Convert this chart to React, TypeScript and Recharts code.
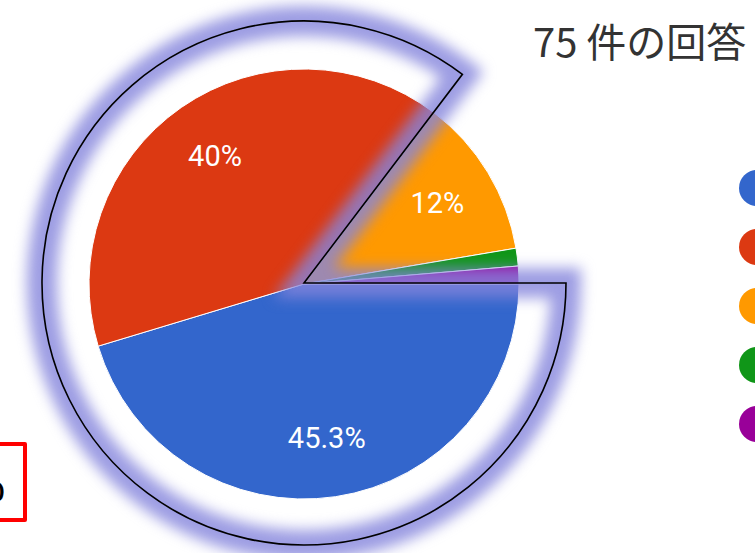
import { PieChart, Pie, Cell, Legend } from "recharts";

// 75 responses, Google Forms style pie
const categories = ["とてもそう思う", "そう思う", "どちらでもない", "そう思わない", "全くそう思わない"];
const counts = [34, 30, 9, 1, 1];
const colors = ["#3366cc", "#dc3912", "#ff9900", "#109618", "#990099"];
const title = "75 件の回答";
// slices circled by the hand-drawn annotation
const circled = [0, 1];

const data = categories.map((name, i) => ({ name, value: counts[i] }));
const total = counts.reduce((s, v) => s + v, 0);
const circledValue = circled.reduce((s, i) => s + counts[i], 0);
const outlineData = [
  { name: "circled", value: circledValue },
  { name: "rest", value: total - circledValue },
];

const RADIAN = Math.PI / 180;

const renderLabel = (props: any) => {
  const { cx, cy, midAngle, outerRadius, percent } = props;
  if (percent < 0.05) return null;
  const r = outerRadius * 0.725;
  const x = cx + r * Math.cos(-midAngle * RADIAN);
  const y = cy + r * Math.sin(-midAngle * RADIAN);
  return (
    <text x={x} y={y} fill="#fff" textAnchor="middle" dominantBaseline="central" fontSize={29} fontFamily="Roboto">
      {Math.round(percent * 1000) / 10 + "%"}
    </text>
  );
};

// legend labels sit past the right edge of the crop, only the dots show
const renderLegend = () => (
  <div>
    {categories.map((c, i) => (
      <div key={c} title={c} style={{ display: "flex", alignItems: "center", height: 59 }}>
        <span style={{ width: 36, height: 36, borderRadius: "50%", background: colors[i], flex: "none" }} />
      </div>
    ))}
  </div>
);

const App = () => {
  return (
    <div style={{ position: "absolute", left: 0, top: 0, width: 755, height: 553, overflow: "hidden", background: "#fff" }}>
      <style>{`.glow-ring path { filter: blur(7px); }`}</style>
      <PieChart width={755} height={553} margin={{ top: 0, right: 0, bottom: 0, left: 0 }}>
        <Pie
          data={data}
          dataKey="value"
          nameKey="name"
          cx={304}
          cy={284}
          outerRadius={215}
          startAngle={0}
          endAngle={-360}
          stroke="#fff"
          strokeWidth={1}
          label={renderLabel}
          labelLine={false}
          isAnimationActive={false}
        >
          {data.map((d, i) => (
            <Cell key={d.name} fill={colors[i]} />
          ))}
        </Pie>
        <Pie
          data={outlineData}
          dataKey="value"
          cx={304}
          cy={283}
          outerRadius={262}
          startAngle={0}
          endAngle={-360}
          className="glow-ring"
          legendType="none"
          isAnimationActive={false}
        >
          <Cell fill="none" stroke="#8585dc" strokeWidth={30} strokeOpacity={0.8} />
          <Cell fill="none" stroke="none" />
        </Pie>
        <Pie
          data={outlineData}
          dataKey="value"
          cx={304}
          cy={283}
          outerRadius={262}
          startAngle={0}
          endAngle={-360}
          legendType="none"
          isAnimationActive={false}
        >
          <Cell fill="none" stroke="#000" strokeWidth={1.6} />
          <Cell fill="none" stroke="none" />
        </Pie>
        <Legend
          layout="vertical"
          align="right"
          verticalAlign="top"
          content={renderLegend}
          wrapperStyle={{ left: 739, top: 158, width: 60 }}
        />
      </PieChart>
      <div
        style={{
          position: "absolute",
          left: 533,
          top: 20,
          fontSize: 40,
          lineHeight: 1,
          color: "#333",
          fontFamily: "Noto Sans CJK JP",
          whiteSpace: "nowrap",
        }}
      >
        {title}
      </div>
      <div
        style={{
          position: "absolute",
          left: -20,
          top: 442,
          width: 47,
          height: 80,
          boxSizing: "border-box",
          border: "4px solid #ff0000",
          borderRadius: 2,
        }}
      />
      <div
        style={{
          position: "absolute",
          left: -15,
          top: 472,
          fontSize: 36,
          lineHeight: 1,
          color: "#000",
          fontFamily: "Liberation Sans",
        }}
      >
        o
      </div>
    </div>
  );
};

export default App;
